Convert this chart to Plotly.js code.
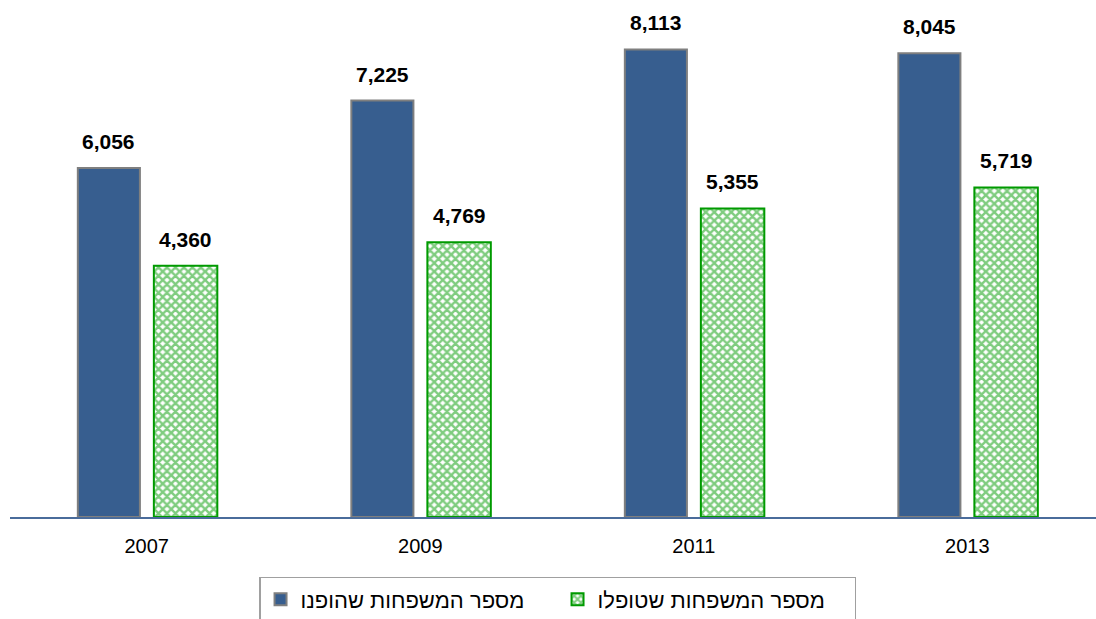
<!DOCTYPE html>
<html>
<head>
<meta charset="utf-8">
<script src="https://cdn.plot.ly/plotly-3.0.1.min.js"></script>
<style>html,body{margin:0;padding:0;background:#fff;}#chart{width:1096px;height:619px;}</style>
</head>
<body>
<div id="chart"></div>
<script>
const years = ['2007', '2009', '2011', '2013'];
const referred = [6056, 7225, 8113, 8045];
const treated = [4360, 4769, 5355, 5719];
const nameReferred = 'מספר המשפחות שהופנו';
const nameTreated = 'מספר המשפחות שטופלו';

const fmt = v => v.toLocaleString('en-US');
const font = '"Liberation Sans", Arial, sans-serif';

const traces = [
  {
    type: 'bar', name: nameReferred, x: years, y: referred,
    offset: -0.252, width: 0.227,
    marker: {color: '#375E8F', line: {color: '#7F7F7F', width: 2}},
    hoverinfo: 'skip'
  },
  {
    type: 'bar', name: nameTreated, x: years, y: treated,
    offset: 0.026, width: 0.232,
    marker: {color: '#ffffff', line: {color: '#009A00', width: 2},
      pattern: {shape: 'x', fgcolor: '#009A00', bgcolor: '#ffffff', size: 6, solidity: 0.65, fillmode: 'overlay'}},
    hoverinfo: 'skip'
  }
];

const annotations = [];
years.forEach((yr, i) => {
  annotations.push({x: i - 0.139, y: referred[i], xref: 'x', yref: 'y', text: '<b>' + fmt(referred[i]) + '</b>',
    showarrow: false, yanchor: 'bottom', yshift: 13, font: {family: font, size: 21, color: '#000'}});
  annotations.push({x: i + 0.142, y: treated[i], xref: 'x', yref: 'y', text: '<b>' + fmt(treated[i]) + '</b>',
    showarrow: false, yanchor: 'bottom', yshift: 13, font: {family: font, size: 21, color: '#000'}});
});

const layout = {
  width: 1096, height: 619,
  margin: {l: 10, r: 0, t: 0, b: 102},
  paper_bgcolor: '#ffffff', plot_bgcolor: '#ffffff',
  barmode: 'overlay',
  showlegend: true,
  font: {family: font, color: '#000'},
  xaxis: {type: 'category', range: [-0.5, 3.4707], showline: true, linecolor: '#4A6C9B', linewidth: 2,
    ticks: '', ticklabelstandoff: 10, showgrid: false, zeroline: false,
    tickfont: {size: 20, family: font, color: '#000'}},
  yaxis: {range: [0, 8971], visible: false, showgrid: false, zeroline: false},
  legend: {orientation: 'h', xref: 'container', yref: 'container', x: 0.5087, xanchor: 'center',
    y: 0.0679, yanchor: 'top', bordercolor: '#A0A0A0', borderwidth: 1.5, bgcolor: '#ffffff',
    font: {size: 22, family: font, color: '#000'}, traceorder: 'normal', itemwidth: 30,
    entrywidth: 252, entrywidthmode: 'pixels'},
  annotations: annotations
};

Plotly.newPlot('chart', traces, layout, {staticPlot: true, displayModeBar: false});
</script>
</body>
</html>
